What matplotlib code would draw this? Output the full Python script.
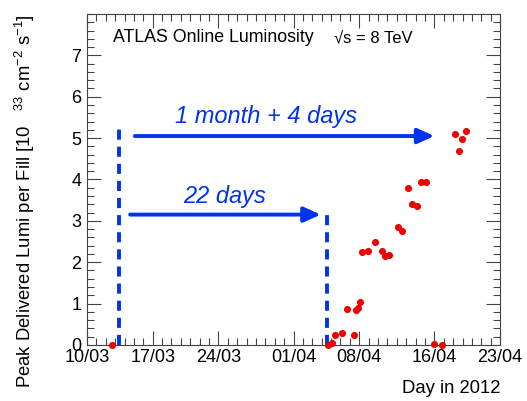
import numpy as np
import matplotlib
matplotlib.use('Agg')
import matplotlib.pyplot as plt
import matplotlib.dates as mdates
from matplotlib.ticker import MultipleLocator

plt.rcParams['font.family'] = ['Liberation Sans', 'DejaVu Sans']
plt.rcParams['mathtext.fontset'] = 'custom'
plt.rcParams['mathtext.rm'] = 'Liberation Sans'

# %% data: days after 10/03/2012, peak lumi [1e33 cm-2 s-1]
start = np.datetime64('2012-03-10T00:00')
fill_day = [2.7, 25.7, 26.1, 26.4, 27.2, 27.65, 28.4, 28.6, 28.9, 29.1,
            29.3, 29.9, 30.7, 31.4, 31.7, 32.2, 33.1, 33.6, 34.2, 34.6,
            35.1, 35.6, 36.1, 37.0, 37.8, 39.2, 39.6, 39.9, 40.4]
peak_lumi = [0.0, 0.0, 0.05, 0.25, 0.29, 0.86, 0.25, 0.85, 0.89, 1.04,
             2.25, 2.27, 2.48, 2.28, 2.15, 2.18, 2.84, 2.76, 3.80, 3.40,
             3.36, 3.95, 3.93, 0.01, 0.0, 5.10, 4.68, 4.98, 5.18]
xticks = ['2012-03-10', '2012-03-17', '2012-03-24', '2012-04-01',
          '2012-04-08', '2012-04-16', '2012-04-23']

# markers: first beam day, start of 22-day stretch, end of month stretch
vline_day = [3.4, 25.6]
vline_top = [5.35, 3.2]
arrow_from = [5.1, 4.6]
arrow_to = [37.0, 24.9]
arrow_y = [5.05, 3.15]
arrow_txt = ['1 month + 4 days', '22 days']
txt_pos = [(19.1, 5.36), (14.7, 3.43)]


def day(d):
    return mdates.date2num(start + np.timedelta64(int(round(d * 1440)), 'm'))


# %%
fig = plt.figure(figsize=(5.27, 4.01), dpi=100)
ax = fig.add_axes([0.165, 0.14, 0.784, 0.825])

ax.scatter([day(d) for d in fill_day], peak_lumi, s=26, color='#ee0000',
           zorder=5, clip_on=False, linewidths=0)

for x, top in zip(vline_day, vline_top):
    ax.plot([day(x), day(x)], [0, top], color='#0033ee', lw=2.8,
            dashes=(2.6, 1.8), zorder=3)

for x0, x1, y, t, (tx, ty) in zip(arrow_from, arrow_to, arrow_y, arrow_txt, txt_pos):
    ax.annotate('', xy=(day(x1), y), xytext=(day(x0), y),
                arrowprops=dict(arrowstyle='-|>,head_length=1.0,head_width=0.45',
                                color='#0033ee', lw=2.8, shrinkA=0, shrinkB=0))
    ax.text(day(tx), ty, t, color='#0033ee', fontsize=17, style='italic',
            ha='center', va='baseline')

ax.set_xlim(day(0), day(44))
ax.set_ylim(0, 8)
ax.set_xticks([mdates.date2num(np.datetime64(d)) for d in xticks])
ax.xaxis.set_major_formatter(mdates.DateFormatter('%d/%m'))
ax.xaxis.set_minor_locator(MultipleLocator(1))
ax.yaxis.set_minor_locator(MultipleLocator(0.2))
ax.set_yticks(range(8))
ax.tick_params(which='both', direction='in', top=True, right=True,
               labelsize=13, color='#444444')
ax.tick_params(which='major', length=10, width=0.8)
ax.tick_params(which='minor', length=5, width=0.8)
ax.tick_params(axis='x', pad=3)
ax.tick_params(axis='y', pad=4)
for s in ax.spines.values():
    s.set_color('#444444')
    s.set_linewidth(0.8)

ax.set_ylabel(r'Peak Delivered Lumi per Fill [10   $^{33}$ cm$^{-2}$ s$^{-1}$]',
              fontsize=13.3, loc='top', labelpad=25)
ax.set_xlabel('Day in 2012', fontsize=13.3, loc='right', labelpad=10)

ax.text(0.063, 0.915, 'ATLAS Online Luminosity', transform=ax.transAxes,
        fontsize=12.8, va='baseline')
ax.text(0.598, 0.915, '√s = 8 TeV', transform=ax.transAxes,
        fontsize=12, va='baseline')

fig.savefig('out.png', dpi=100)
